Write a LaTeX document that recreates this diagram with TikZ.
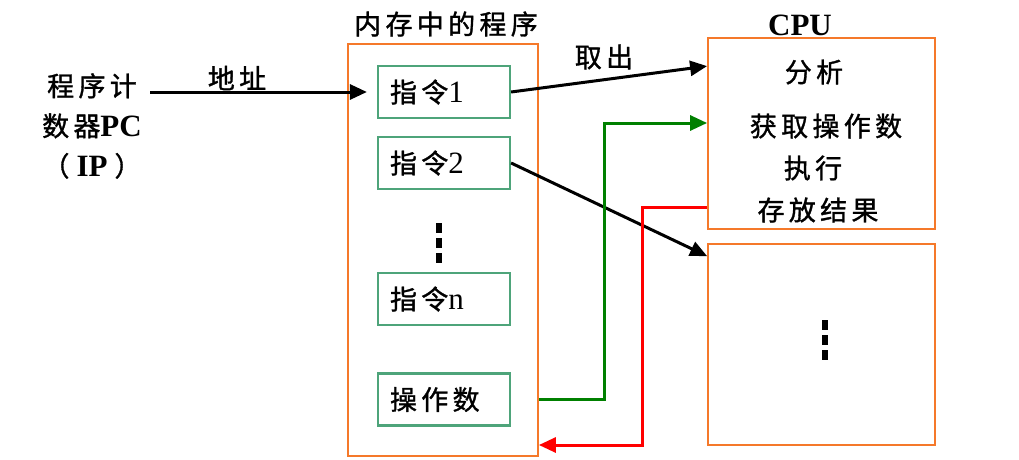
\documentclass[tikz,border=0pt]{standalone}
\usepackage{fontspec}
\setmainfont{Liberation Serif}
\newfontfamily\cjk[LetterSpace=16, FakeBold=1.2]{Noto Sans CJK SC}
\newcommand{\zh}[1]{{\cjk #1}}
\newcommand{\lat}[1]{{\fontsize{31}{31}\selectfont #1}}
\usetikzlibrary{arrows.meta}
\definecolor{boxorange}{HTML}{F5792A}
\definecolor{boxgreen}{HTML}{4EA47A}
\definecolor{linegreen}{HTML}{008000}
\definecolor{linered}{HTML}{FF0000}
\tikzset{
  txt/.style={font=\fontsize{27}{30}\selectfont, inner sep=0pt},
  bigbox/.style={draw=boxorange, line width=1.8pt, inner sep=0pt},
  instbox/.style={draw=boxgreen, line width=2.2pt, minimum width=132pt, minimum height=52pt,
    text width=108pt, inner xsep=12pt, align=left, font=\fontsize{27}{30}\selectfont},
  arr/.style={-{Triangle[length=17pt,width=15pt]}, line width=3pt},
  dots/.style={line width=6pt, dash pattern=on 10pt off 5pt}
}
\begin{document}
\begin{tikzpicture}[x=1pt,y=-1pt]
\useasboundingbox (0,0) rectangle (1019,460);
% big boxes
\node[bigbox, minimum width=190pt, minimum height=412pt] (mem) at (443,250) {};
\node[bigbox, minimum width=227pt, minimum height=191pt] (cpu) at (821.5,133.5) {};
\node[bigbox, minimum width=227pt, minimum height=201pt] (low) at (821.5,344.5) {};
% titles
\node[txt] (memtitle) at (446,24) {\zh{内存中的程序}};
\node[txt, font=\fontsize{31}{31}\selectfont\bfseries] (cputitle) at (800,25) {CPU};
% PC
\node[txt, align=center, font=\fontsize{27}{40}\selectfont] (pc) at (92,126)
  {\zh{程序计}\\\zh{数器}{\fontsize{31}{40}\selectfont\bfseries PC}\\\zh{（}\hspace{7pt}{\fontsize{31}{40}\selectfont\bfseries IP}\hspace{7pt}\zh{）}};
\node[txt] (addr) at (237,78) {\zh{地址}};
\node[txt] (fetch) at (604,57) {\zh{取出}};
% instruction boxes
\node[instbox] (i1) at (444,92) {\zh{指令}\lat{1}};
\node[instbox] (i2) at (444,163) {\zh{指令}\lat{2}};
\node[instbox] (in) at (444,299) {\zh{指令}\lat{n}};
\node[instbox] (op) at (444,399.5) {\zh{操作数}};
% CPU texts
\node[txt] (c1) at (814,72) {\zh{分析}};
\node[txt] (c2) at (826,126) {\zh{获取操作数}};
\node[txt] (c3) at (813,168) {\zh{执行}};
\node[txt] (c4) at (818,210) {\zh{存放结果}};
% vertical dots
\coordinate (d1a) at (439,223); \coordinate (d1b) at (439,266);
\draw[dots] (d1a) -- (d1b);
\coordinate (d2a) at (825,320); \coordinate (d2b) at (825,363);
\draw[dots] (d2a) -- (d2b);
% connectors
\draw[arr] ([xshift=8pt]pc.east |- i1.west) -- ([xshift=-10pt]i1.west);
\coordinate (fetchend) at ([yshift=-29pt]cpu.north west);
\draw[arr] (i1.east) -- (fetchend);
\coordinate (i2end) at ([yshift=-13pt]low.north west);
\draw[arr] (i2.east) -- (i2end);
\coordinate (g) at (604,123);
\draw[arr, draw=linegreen] (mem.east |- op.east) -| (g) -- (cpu.west |- g);
\coordinate (r1) at (642,207);
\coordinate (r2) at (642,445);
\draw[arr, draw=linered] (cpu.west |- r1) -- (r1) -- (r2) -- (mem.east |- r2);
\end{tikzpicture}
\end{document}
